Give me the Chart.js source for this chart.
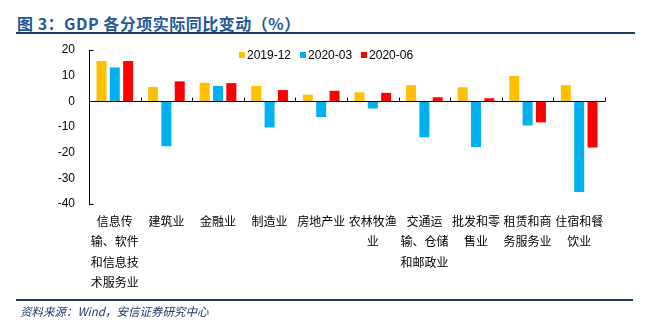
<!DOCTYPE html>
<html>
<head>
<meta charset="utf-8">
<script src="https://cdn.jsdelivr.net/npm/chart.js"></script>
<style>
  body { margin: 0; background: #fff; font-family: "Liberation Sans", Arial, sans-serif; }
  #wrap { position: relative; width: 645px; height: 327px; overflow: hidden; }
  #chartBox { position: absolute; left: 0; top: 0; width: 645px; height: 327px; }
  .title { position: absolute; left: 17px; top: 11px; font: bold 16px "Noto Sans CJK SC", sans-serif; color: #1F5A94; white-space: nowrap; letter-spacing: 0.5px; }
  .rule { position: absolute; left: 16px; width: 619px; height: 2px; background: #1F3864; }
  .source { position: absolute; left: 20px; top: 303px; font: italic 11.5px "Noto Sans CJK SC", sans-serif; color: #1F3864; white-space: nowrap; }
  .legend { position: absolute; top: 48px; left: 239px; font: 12px "Liberation Sans", Arial, sans-serif; color: #000; white-space: nowrap; }
  .legend span.item { display: inline-block; margin-right: 9px; }
  .legend i { display: inline-block; width: 6px; height: 6px; margin-right: 2px; vertical-align: 1px; }
</style>
</head>
<body>
<div id="wrap">
  <div class="title">图 3：GDP 各分项实际同比变动（%）</div>
  <div class="rule" style="top:32px"></div>
  <div id="chartBox"><canvas id="chart"></canvas></div>
  <div class="legend" id="legend"></div>
  <div class="rule" style="top:299px; width:617px"></div>
  <div class="source">资料来源：Wind，安信证券研究中心</div>
</div>

<script>
// categories (already wrapped the way the reference shows them)
const categories = [
  ['信息传', '输、软件', '和信息技', '术服务业'],
  '建筑业',
  '金融业',
  '制造业',
  '房地产业',
  ['农林牧渔', '业'],
  ['交通运', '输、仓储', '和邮政业'],
  ['批发和零', '售业'],
  ['租赁和商', '务服务业'],
  ['住宿和餐', '饮业']
];

const seriesNames = ['2019-12', '2020-03', '2020-06'];
const seriesColors = ['#FFC000', '#00B0F0', '#FF0000'];

const v2019_12 = [15.7, 5.6, 7.2, 6.0, 2.6, 3.5, 6.3, 5.5, 9.9, 6.3];
const v2020_03 = [13.2, -17.5, 6.0, -10.2, -6.1, -2.8, -14.0, -17.8, -9.4, -35.3];
const v2020_06 = [15.7, 7.8, 7.1, 4.4, 4.1, 3.3, 1.6, 1.2, -8.2, -18.0];

const yTicks = [20, 10, 0, -10, -20, -30, -40];

// html legend
document.getElementById('legend').innerHTML = seriesNames.map((n, i) =>
  `<span class="item"><i style="background:${seriesColors[i]}"></i>${n}</span>`).join('');

// zero line + category tick marks + little end ticks on y axis
const axisDecor = {
  id: 'axisDecor',
  afterDraw(chart) {
    const { ctx, chartArea: a, scales: { x, y } } = chart;
    const y0 = Math.round(y.getPixelForValue(0)) + 0.5;
    const n = categories.length;
    const step = (a.right - a.left) / n;
    ctx.save();
    ctx.strokeStyle = '#000';
    ctx.lineWidth = 1;
    ctx.beginPath();
    ctx.moveTo(a.left, y0);
    ctx.lineTo(a.right, y0);
    for (let i = 1; i <= n; i++) {
      const px = Math.round(a.left + i * step) + 0.5;
      ctx.moveTo(px, y0);
      ctx.lineTo(px, y0 - 4);
    }
    const xl = Math.round(a.left) + 0.5;
    [20, -40].forEach(v => {
      const py = Math.round(y.getPixelForValue(v)) + 0.5;
      ctx.moveTo(xl, py);
      ctx.lineTo(xl + 4, py);
    });
    ctx.stroke();
    ctx.restore();
  }
};

const mk = (name, data, i) => ({
  label: name,
  data: data,
  backgroundColor: seriesColors[i],
  borderWidth: 0,
  categoryPercentage: 0.775,
  barPercentage: 0.75
});

new Chart(document.getElementById('chart'), {
  type: 'bar',
  data: {
    labels: categories,
    datasets: [
      mk(seriesNames[0], v2019_12, 0),
      mk(seriesNames[1], v2020_03, 1),
      mk(seriesNames[2], v2020_06, 2)
    ]
  },
  options: {
    responsive: true,
    maintainAspectRatio: false,
    animation: false,
    layout: { padding: { top: 50, right: 40, left: 0, bottom: 0 } },
    plugins: { legend: { display: false }, tooltip: { enabled: false } },
    scales: {
      x: {
        grid: { display: false },
        border: { display: false },
        ticks: {
          color: '#000',
          padding: -1,
          maxRotation: 0,
          autoSkip: false,
          font: { family: '"Noto Sans CJK SC", sans-serif', size: 12, lineHeight: '20.5px' }
        },
        afterFit(s) { s.height = 123; }
      },
      y: {
        min: -40,
        max: 20,
        afterBuildTicks(s) { s.ticks = yTicks.map(v => ({ value: v })); },
        grid: { display: false },
        border: { display: true, color: '#000', width: 1 },
        ticks: {
          color: '#000',
          padding: 6,
          font: { family: '"Liberation Sans", Arial, sans-serif', size: 12 }
        },
        afterFit(s) { s.width = 89; }
      }
    }
  },
  plugins: [axisDecor]
});
</script>
</body>
</html>
